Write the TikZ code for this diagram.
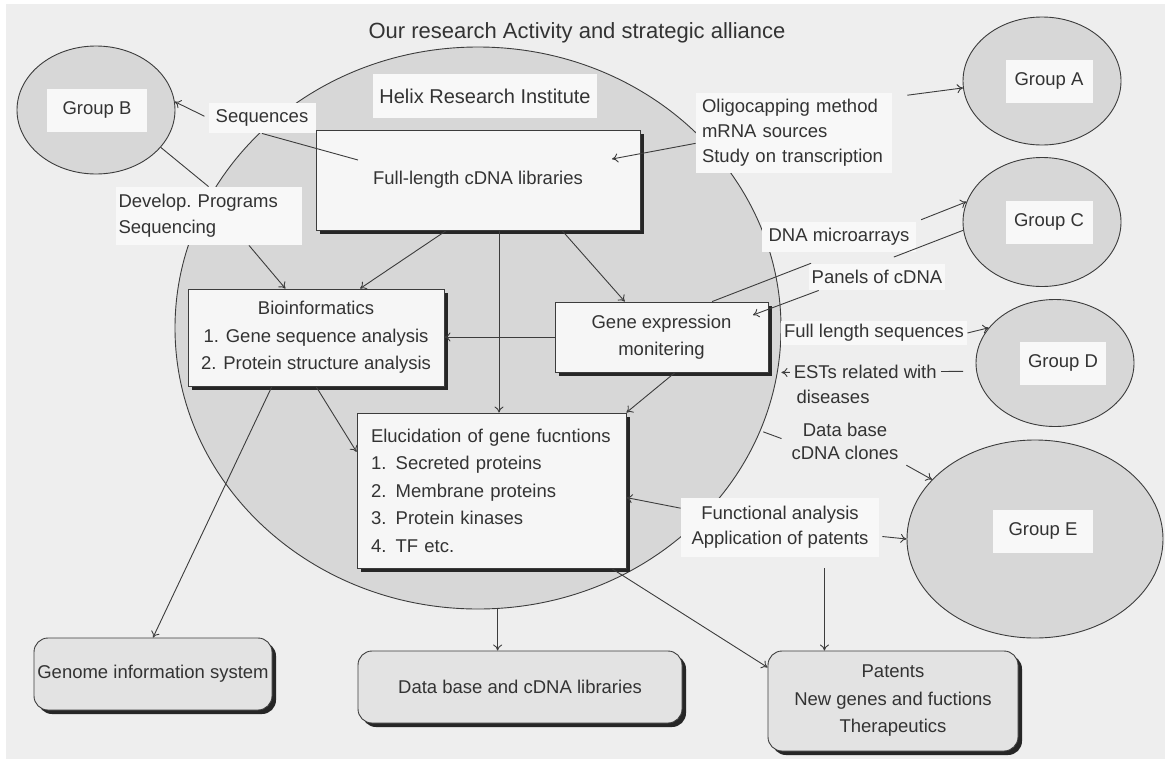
\documentclass[tikz,border=0pt]{standalone}
\usepackage{fontspec}
\setmainfont{Liberation Sans}
\usetikzlibrary{shapes.geometric, shadows, arrows.meta}

\definecolor{bgc}{HTML}{EEEEEE}
\definecolor{grpgray}{HTML}{D7D7D7}
\definecolor{lblwhite}{HTML}{F8F8F8}
\definecolor{boxwhite}{HTML}{F6F6F6}
\definecolor{outgray}{HTML}{E3E3E3}
\definecolor{linec}{HTML}{3C3C3C}
\definecolor{txt}{HTML}{333333}

\tikzset{
	grp/.style = {ellipse, draw = linec, fill = grpgray, inner sep = 0pt},
	grplbl/.style = {fill = lblwhite, minimum height = 43pt, inner sep = 0pt},
	lbl/.style = {fill = lblwhite, inner sep = 3pt, align = center, font = \fontsize{18.5}{25}\selectfont},
	blk/.style = {draw = linec, fill = boxwhite, inner sep = 0pt, align = center,
		drop shadow = {shadow xshift = 4pt, shadow yshift = -4pt, fill = black!85, opacity = 1}},
	outblk/.style = {blk, fill = outgray, rounded corners = 14pt},
}

\begin{document}
\begin{tikzpicture}[x = 1pt, y = -1pt, line width = 0.9pt, draw = linec,
	>= {To[length = 6pt, width = 9pt]},
	every node/.style = {font = \fontsize{18.5}{27.5}\selectfont, text = txt}]
	\useasboundingbox (0, 0) rectangle (1169, 763);
	\fill[white] (0, 0) rectangle (1169, 763);
	\fill[bgc] (6, 4) rectangle (1165, 759);

	\node (title) [font = \fontsize{22}{26}\selectfont] at (577, 33) {Our research Activity and strategic alliance};

	% Institut und Gruppen:
	\node (helix) [grp, minimum width = 606pt, minimum height = 562pt] at (478, 328) {};
	\node (grpB) [grp, minimum width = 158pt, minimum height = 128pt] at (96, 110) {};
	\node (grpA) [grp, minimum width = 158pt, minimum height = 128pt] at (1042, 81) {};
	\node (grpC) [grp, minimum width = 158pt, minimum height = 129pt] at (1042, 222) {};
	\node (grpD) [grp, minimum width = 158pt, minimum height = 127pt] at (1055, 363) {};
	\node (grpE) [grp, minimum width = 256pt, minimum height = 198pt] at (1035, 539) {};

	\node (grpBlbl) [grplbl, minimum width = 100pt] at (97, 110) {Group B};
	\node (grpAlbl) [grplbl, minimum width = 87pt] at (1049, 81) {Group A};
	\node (grpClbl) [grplbl, minimum width = 87pt] at (1049, 222) {Group C};
	\node (grpDlbl) [grplbl, minimum width = 86pt] at (1063, 363) {Group D};
	\node (grpElbl) [grplbl, minimum width = 100pt] at (1043, 531) {Group E};
	\node (helixlbl) [grplbl, minimum width = 224pt, minimum height = 44pt, font = \fontsize{20}{24}\selectfont] at (485, 96) {Helix Research Institute};

	% Kaesten
	\node (full) [blk, minimum width = 324pt, minimum height = 100pt] at (478, 180) {Full-length cDNA libraries};
	\node (bio) [blk, minimum width = 256pt, minimum height = 97pt] at (316, 337.5) {Bioinformatics\\1. Gene sequence analysis\\2. Protein structure analysis};
	\node (gexp) [blk, minimum width = 213pt, minimum height = 70pt] at (661.5, 337) {Gene expression\\monitering};
	\node (eluc) [blk, align = left, text width = 241pt, minimum width = 269pt, minimum height = 155pt] at (491.5, 490.5) {Elucidation of gene fucntions\\1. Secreted proteins\\2. Membrane proteins\\3. Protein kinases\\4. TF etc.};

	\node (genome) [outblk, minimum width = 238pt, minimum height = 72pt] at (153, 674) {Genome information system};
	\node (dbase) [outblk, minimum width = 324pt, minimum height = 72pt] at (520, 687) {Data base and cDNA libraries};
	\node (pat) [outblk, minimum width = 250pt, minimum height = 100pt] at (893, 701) {Patents\\New genes and fuctions\\Therapeutics};

	% Beschriftungen
	\node (seq) [lbl, minimum width = 107pt, minimum height = 30pt] at (262, 118) {Sequences};
	\node (dev) [lbl, align = left, text width = 180pt, minimum height = 58pt, font = \fontsize{18.5}{26}\selectfont] at (208.5, 216) {Develop.\ Programs\\Sequencing};
	\node (oligo) [lbl, align = left, inner xsep = 6pt, text width = 184pt, minimum height = 80pt] at (794, 133) {Oligocapping method\\mRNA sources\\Study on transcription};
	\node (dna) [lbl, minimum width = 154pt, minimum height = 30pt] at (839, 237) {DNA microarrays};
	\node (pan) [lbl, minimum height = 26pt] at (877, 277) {Panels of cDNA};
	\node (fls) [lbl] at (874, 333) {Full length sequences};
	\node (dis) [lbl, fill = bgc] at (833, 397) {diseases};
	\node (dbc) [lbl, fill = bgc, font = \fontsize{18.5}{23}\selectfont] at (845, 441) {Data base\\cDNA clones};
	\node (func) [lbl, minimum width = 198pt, minimum height = 59pt] at (780, 527.5) {Functional analysis\\Application of patents};

	\coordinate (vx) at (499, 0);
	\coordinate (seqend) at (358, 160);
	\coordinate (olgend) at (612, 159);
	\coordinate (panend) at (753, 315);

	% Verbindungen
	\draw[->, shorten <= 4pt] (seq.west) -- (grpB.6);
	\draw (seq.south) -- (seqend);
	\draw (grpB.-30) -- (dev.north);
	\draw[->] (dev.-36) -- (bio.122);
	\draw[->] (full.-122) -- (bio.48);
	\draw[->] (full.-31) -- (gexp.136);
	\draw[->] (full.south -| vx) -- (eluc.north -| vx);
	\draw[->] (gexp.west) -- (gexp.west -| bio.east);
	\draw[->] (gexp.-69) -- (eluc.north east);
	\draw[->] (bio.south) -- (eluc.164);
	\draw[->] (bio.-132) -- (genome.north);
	\draw[->] (helix.-86) -- (helix.-86 |- dbase.north);
	\draw[->] (eluc.-33) -- (pat.165);

	\draw[->, shorten <= 11pt] (func.-34) -- (func.-34 |- pat.north);
	\draw[->] (func.169) -- (eluc.-3);
	\draw[->, shorten <= 3pt] (func.-5) -- (grpE.west);

	\draw[->, shorten <= 15pt] (oligo.20) -- (grpA.185);
	\draw[->] (oligo.186) -- (olgend);
	\draw[shorten >= 30pt] (gexp.35) -- (dna.south);
	\draw[->, shorten <= 5pt] (dna.north east) -- (grpC.165);
	\draw[shorten >= 18pt] (grpC.186) -- (pan.north);
	\draw[->] (pan.193) -- (panend);
	\draw[->] (fls.east) -- (grpD.152);
	\draw[->, shorten <= 13pt] (grpD.186) -- node[pos = 0.57] (ests) [lbl, fill = bgc, inner sep = 4pt] {ESTs related with} ([xshift = 13pt] gexp.south east);
	\draw[shorten <= 3pt, shorten >= 7pt] (helix.-20) -- (dbc.west);
	\draw[->, shorten <= 5pt] (dbc.south east) -- (grpE.150);
\end{tikzpicture}
\end{document}
